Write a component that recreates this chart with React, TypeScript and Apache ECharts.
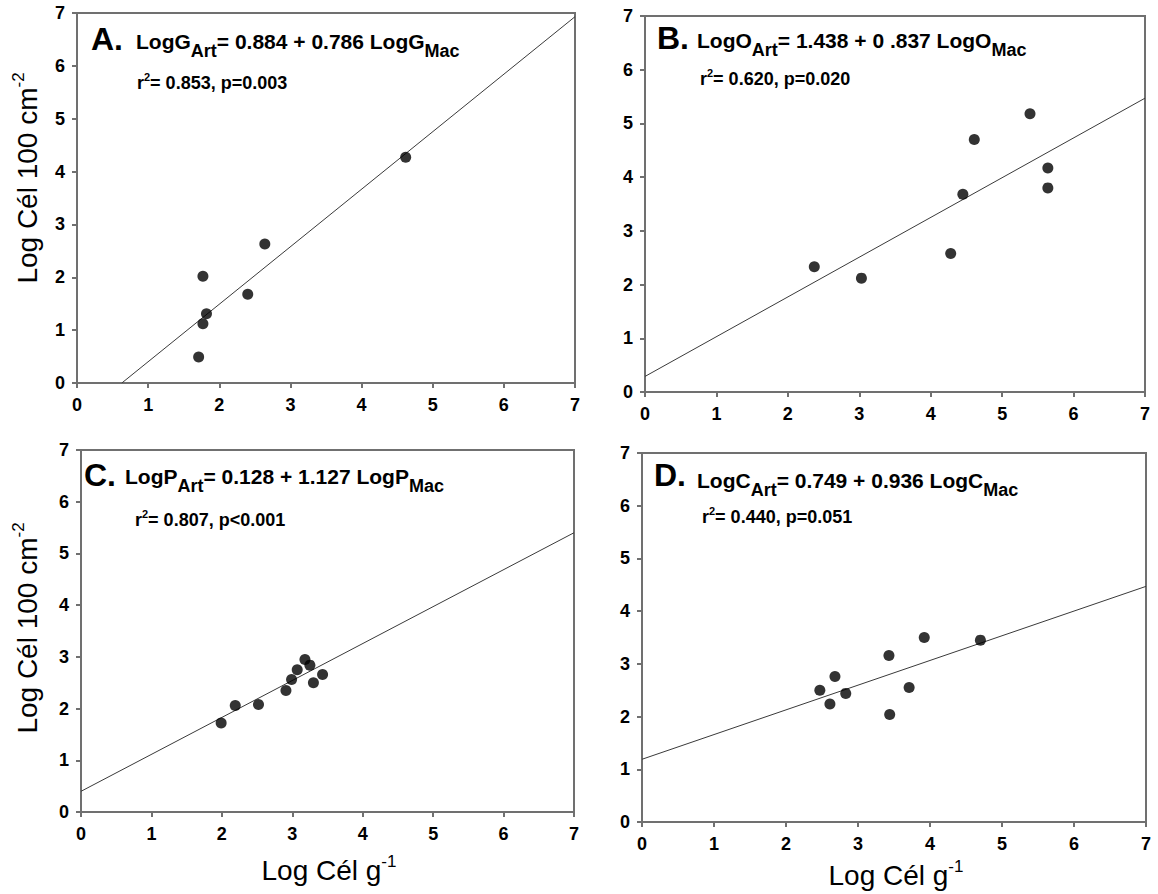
import React, { useEffect, useRef } from "react";
import * as echarts from "echarts";

const FONT = "Liberation Sans, Arial, Helvetica, sans-serif";

// Axis range shared by every panel (log scale values)
const axisMin = 0;
const axisMax = 7;
const axisStep = 1;

// [log cells g-1 on macrophyte, log cells 100 cm-2 on artificial substrate]
const gambierdiscusPoints = [
  [1.71, 0.49], [1.77, 1.12], [1.82, 1.31], [1.77, 2.02],
  [2.4, 1.68], [2.64, 2.63], [4.62, 4.27],
];
const ostreopsisPoints = [
  [2.37, 2.33], [3.03, 2.12], [4.28, 2.58], [4.45, 3.68],
  [4.61, 4.7], [5.39, 5.18], [5.64, 4.17], [5.64, 3.8],
];
const prorocentrumPoints = [
  [1.99, 1.72], [2.19, 2.06], [2.52, 2.08], [2.91, 2.35], [2.99, 2.56],
  [3.07, 2.75], [3.18, 2.95], [3.25, 2.84], [3.3, 2.5], [3.43, 2.66],
];
const cooliaPoints = [
  [2.47, 2.5], [2.61, 2.24], [2.68, 2.76], [2.83, 2.44], [3.43, 3.16],
  [3.44, 2.04], [3.71, 2.55], [3.92, 3.5], [4.7, 3.45],
];

// Fitted regression lines, as end points
const gambierdiscusFit = [[0.63, 0], [7, 6.93]];
const ostreopsisFit = [[0, 0.29], [7, 5.47]];
const prorocentrumFit = [[0, 0.4], [7, 5.4]];
const cooliaFit = [[0, 1.19], [7, 4.47]];

const panelLetters = ["A.", "B.", "C.", "D."];
// [main, subscript, main, subscript]
const equations = [
  ["LogG", "Art", "= 0.884 + 0.786 LogG", "Mac"],
  ["LogO", "Art", "= 1.438 + 0 .837 LogO", "Mac"],
  ["LogP", "Art", "= 0.128 + 1.127 LogP", "Mac"],
  ["LogC", "Art", "= 0.749 + 0.936 LogC", "Mac"],
];
const statistics = [
  "= 0.853, p=0.003",
  "= 0.620, p=0.020",
  "= 0.807, p<0.001",
  "= 0.440, p=0.051",
];

const yTitle = ["Log Cél 100 cm", "-2"];
const xTitle = ["Log Cél g", "-1"];

const pointSets = [gambierdiscusPoints, ostreopsisPoints, prorocentrumPoints, cooliaPoints];
const fitLines = [gambierdiscusFit, ostreopsisFit, prorocentrumFit, cooliaFit];

const AXIS_GRAY = "#707070";

const layout = [
  { grid: { left: 77, top: 13, width: 498, height: 370 }, letter: [91, 39], eq: [136, 41], stat: [137, 83] },
  { grid: { left: 645, top: 16, width: 500, height: 376 }, letter: [657, 38], eq: [697, 40], stat: [700, 79] },
  { grid: { left: 81, top: 450, width: 493, height: 362 }, letter: [84, 475], eq: [125, 476], stat: [135, 520] },
  { grid: { left: 642, top: 453, width: 504, height: 369 }, letter: [654, 475], eq: [697, 480], stat: [702, 517] },
];

const yTitlePos = [[27, 178], [27, 628]];
const xTitlePos = [[329, 870], [896, 875]];

function axisCommon(gridIndex: number) {
  return {
    gridIndex,
    type: "value" as const,
    min: axisMin,
    max: axisMax,
    interval: axisStep,
    axisLine: { show: true, onZero: false, lineStyle: { color: AXIS_GRAY, width: 2 } },
    axisTick: { show: true, inside: false, length: 5, lineStyle: { color: AXIS_GRAY, width: 2 } },
    splitLine: { show: false },
  };
}

function buildOption() {
  const grid = layout.map((l) => ({
    ...l.grid,
    show: true,
    borderColor: AXIS_GRAY,
    borderWidth: 2,
    backgroundColor: "transparent",
    containLabel: false,
  }));

  const tickLabel = { color: "#000", fontFamily: FONT, fontWeight: "bold", fontSize: 18 };
  const xAxis = layout.map((_, i) => ({
    ...axisCommon(i),
    axisLabel: { ...tickLabel, margin: 13 },
  }));
  const yAxis = layout.map((_, i) => ({
    ...axisCommon(i),
    axisLabel: { ...tickLabel, margin: 12 },
  }));

  const series: any[] = [];
  pointSets.forEach((pts, i) => {
    series.push({
      type: "line",
      xAxisIndex: i,
      yAxisIndex: i,
      data: fitLines[i],
      showSymbol: false,
      symbol: "none",
      lineStyle: { color: "#3a3a3a", width: 1 },
      silent: true,
      z: 2,
    });
    series.push({
      type: "scatter",
      xAxisIndex: i,
      yAxisIndex: i,
      data: pts,
      symbol: "circle",
      symbolSize: 11,
      itemStyle: { color: "#000" },
      z: 3,
    });
  });

  const bold = { fontFamily: FONT, fontWeight: "bold", fill: "#000" };
  const graphic: any[] = [];
  layout.forEach((l, i) => {
    graphic.push({
      type: "text",
      x: l.letter[0],
      y: l.letter[1],
      style: { ...bold, text: panelLetters[i], fontSize: 32, align: "left", verticalAlign: "middle" },
    });
    const [m1, s1, m2, s2] = equations[i];
    // main text centred in a 38px line, subscript pushed to the bottom of it
    graphic.push({
      type: "text",
      x: l.eq[0],
      y: l.eq[1] - 19,
      style: {
        text: `{m|${m1}}{s|${s1}}{m|${m2}}{s|${s2}}`,
        align: "left",
        verticalAlign: "top",
        rich: {
          m: { ...bold, fontSize: 21, lineHeight: 38, verticalAlign: "middle" },
          s: { ...bold, fontSize: 18, lineHeight: 20, verticalAlign: "bottom" },
        },
      },
    });
    graphic.push({
      type: "text",
      x: l.stat[0],
      y: l.stat[1] - 12,
      style: {
        text: `{m|r}{p|2}{m|${statistics[i]}}`,
        align: "left",
        verticalAlign: "top",
        rich: {
          m: { ...bold, fontSize: 18, lineHeight: 24, verticalAlign: "middle" },
          p: { ...bold, fontSize: 11, lineHeight: 16, verticalAlign: "top" },
        },
      },
    });
  });

  const titleRich = {
    t: { fontFamily: FONT, fontSize: 28, fill: "#000", lineHeight: 34, verticalAlign: "middle" },
    p: { fontFamily: FONT, fontSize: 17, fill: "#000", lineHeight: 12, verticalAlign: "top" },
  };
  yTitlePos.forEach(([x, y]) => {
    graphic.push({
      type: "text",
      x,
      y,
      rotation: Math.PI / 2,
      style: {
        text: `{t|${yTitle[0]}}{p|${yTitle[1]}}`,
        align: "center",
        verticalAlign: "middle",
        rich: titleRich,
      },
    });
  });
  xTitlePos.forEach(([x, y]) => {
    graphic.push({
      type: "text",
      x,
      y,
      style: {
        text: `{t|${xTitle[0]}}{p|${xTitle[1]}}`,
        align: "center",
        verticalAlign: "middle",
        rich: titleRich,
      },
    });
  });

  return {
    animation: false,
    backgroundColor: "#fff",
    grid,
    xAxis,
    yAxis,
    series,
    graphic,
  };
}

export default function App() {
  const ref = useRef<HTMLDivElement>(null);
  useEffect(() => {
    if (!ref.current) return;
    const chart = echarts.init(ref.current, null, { renderer: "svg" });
    chart.setOption(buildOption() as any);
    return () => chart.dispose();
  }, []);
  return (
    <div
      ref={ref}
      style={{ position: "absolute", left: 0, top: 0, width: 1158, height: 894, background: "#fff" }}
    />
  );
}
